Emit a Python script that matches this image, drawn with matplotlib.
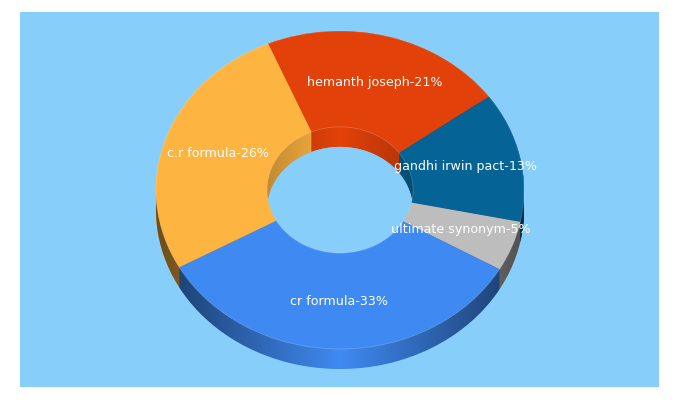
import numpy as np
from matplotlib import pyplot as plt
from matplotlib.patches import Ellipse, Rectangle

names = ['hemanth joseph', 'gandhi irwin pact', 'ultimate synonym', 'cr formula', 'c.r formula']
percents = [21, 13, 5, 33, 26]
# slice sizes as measured from the angles in the picture, labels are rounded
sizes = [21.4, 13.2, 5.1, 33.6, 26.7]
colors = ['#E2420A', '#056495', '#BDBDBD', '#3F8AF2', '#FDB441']
labels = [f'{n}-{p}%' for n, p in zip(names, percents)]

sky = '#87CEFA'
start = 113
depth = 20 / 159
hole = 0.397

fig = plt.figure(figsize=(6.8, 4), dpi=100, facecolor='white')
fig.add_artist(Rectangle((20 / 680, 13 / 400), 639 / 680, 375 / 400,
                         transform=fig.transFigure, color=sky, lw=0, zorder=-1))
ax = fig.add_axes([0, 0, 1, 1])
ax.patch.set_alpha(0)

# side walls: same ring stacked downwards
for d in np.linspace(depth, 0, 41):
    ax.pie(sizes, colors=colors, startangle=start, counterclock=False, center=(0, -d),
           wedgeprops=dict(width=1 - hole, zorder=1, lw=0))

# dark towards left and right
xs = np.linspace(-1, 1, 400)
shade = np.zeros((1, 400, 4))
shade[0, :, 3] = 0.58 * np.abs(xs)
im = ax.imshow(shade, extent=[-1, 1, -1.3, 1.1], aspect='auto', zorder=2)
bottom = Ellipse((0, -depth), 2, 2, transform=ax.transData)
im.set_clip_path(bottom)

# see-through part of the hole
gap = Ellipse((0, 0), 2 * hole, 2 * hole, fc=sky, lw=0, zorder=3)
ax.add_patch(gap)
gap.set_clip_path(Ellipse((0, -depth), 2 * hole, 2 * hole, transform=ax.transData))

wedges, texts = ax.pie(sizes, colors=colors, labels=labels, labeldistance=0.7, startangle=start,
                       counterclock=False, wedgeprops=dict(width=1 - hole, zorder=4, lw=0),
                       textprops=dict(color='white', fontsize=9.1))
for t in texts:
    t.set_ha('center')
    t.set_va('center')
    t.set_zorder(5)

# faint light rim on the top face
for r in (1, hole):
    ax.add_patch(Ellipse((0, 0), 2 * r, 2 * r, fc='none', ec='white', lw=0.6, alpha=0.2, zorder=4.5))

ax.set_aspect('auto')
ax.set_xlim(-340 / 184, 340 / 184)
ax.set_ylim(-210 / 159, 190 / 159)
ax.axis('off')

fig.savefig('out.png', dpi=100)
